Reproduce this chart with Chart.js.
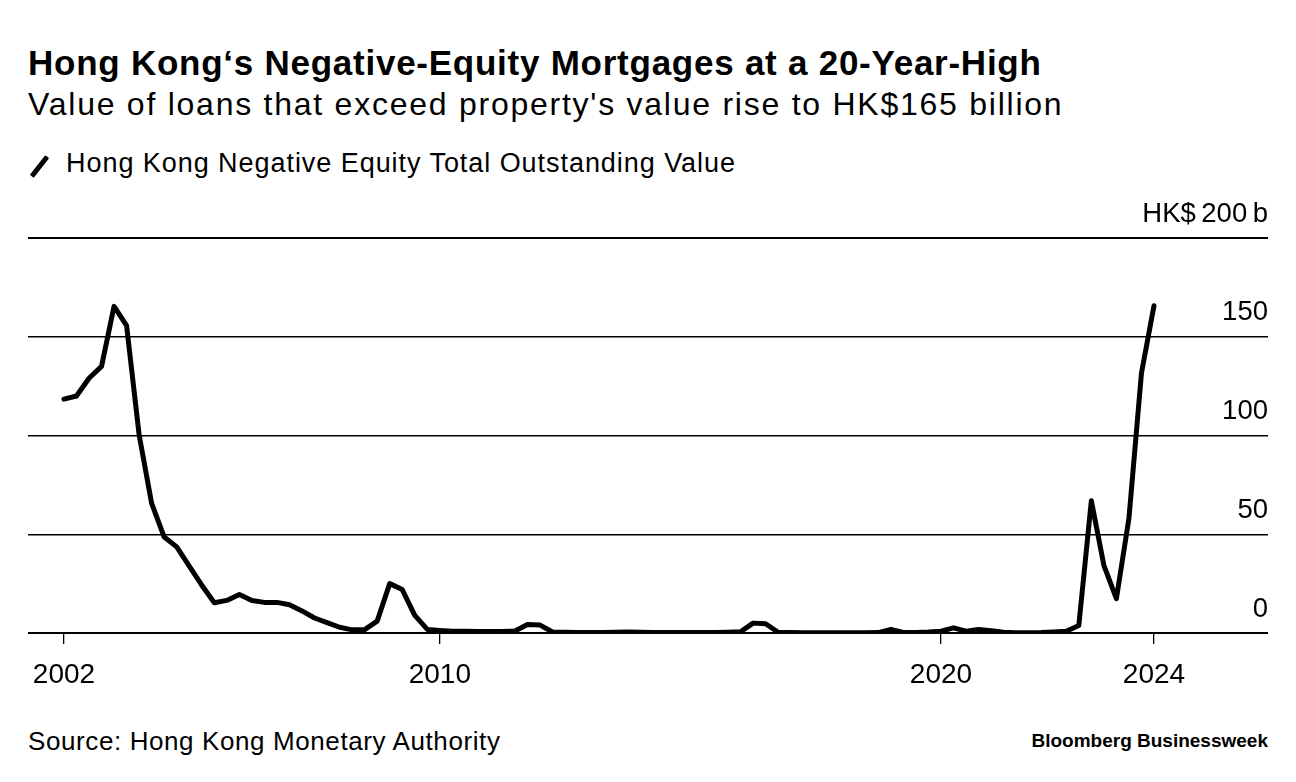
<!DOCTYPE html>
<html>
<head>
<meta charset="utf-8">
<script src="https://cdn.jsdelivr.net/npm/chart.js@4.4.1/dist/chart.umd.min.js"></script>
<style>
  body { margin: 0; width: 1296px; height: 782px; background: #fff; color: #000;
         font-family: "Liberation Sans", Arial, sans-serif; position: relative; overflow: hidden; }
  .txt { position: absolute; line-height: 1; white-space: nowrap; }
  #title { left: 28px; top: 44.5px; font-size: 35px; font-weight: bold; letter-spacing: 0.75px; }
  #subtitle { left: 28px; top: 88px; font-size: 32px; letter-spacing: 1.75px; }
  #legend { left: 66px; top: 149.5px; font-size: 27px; letter-spacing: 0.95px; }
  #legendIcon { position: absolute; left: 37px; top: 154px; width: 5px; height: 25px; background: #000;
                transform: rotate(38deg); border-radius: 1px; }
  #source { left: 28px; top: 728px; font-size: 26px; letter-spacing: 0.6px; }
  #brand { right: 28px; top: 731px; font-size: 19px; font-weight: bold; }
  #wrap { position: absolute; left: 0; top: 180px; width: 1296px; height: 528px; }
</style>
</head>
<body>
<div class="txt" id="title">Hong Kong‘s Negative-Equity Mortgages at a 20-Year-High</div>
<div class="txt" id="subtitle">Value of loans that exceed property's value rise to HK$165 billion</div>
<div id="legendIcon"></div>
<div class="txt" id="legend">Hong Kong Negative Equity Total Outstanding Value</div>
<div id="wrap"><canvas id="negEquityChart"></canvas></div>
<div class="txt" id="source">Source: Hong Kong Monetary Authority</div>
<div class="txt" id="brand">Bloomberg Businessweek</div>

<script>
// Quarterly periods, first point is 2002 Q3
const quarters = [];
for (let i = 0; i < 88; i++) {
  const q = (2 + i) % 4 + 1;
  const y = 2002 + Math.floor((2 + i) / 4);
  quarters.push(y + " Q" + q);
}

// HK$ billion
const outstandingValue = [
  118.4, 120, 129, 135, 165.4, 155.6, 100.3, 65.6, 48.6, 43.6,
  33.9, 24.2, 15.3, 16.5, 19.5, 16.5, 15.5, 15.5, 14.3, 11.2,
  7.6, 5.3, 2.9, 1.6, 1.7, 6, 25, 22, 8.9, 1.8,
  1.3, 0.9, 0.9, 0.8, 0.8, 0.8, 1.0, 4.3, 4.0, 0.5,
  0.4, 0.3, 0.3, 0.3, 0.4, 0.5, 0.4, 0.3, 0.3, 0.3,
  0.3, 0.3, 0.3, 0.4, 0.6, 5.0, 4.7, 0.4, 0.2, 0.1,
  0.1, 0.1, 0.1, 0.1, 0.1, 0.2, 1.8, 0.3, 0.3, 0.5,
  0.9, 2.6, 0.9, 1.8, 1.2, 0.4, 0.1, 0.1, 0.2, 0.5,
  0.9, 3.8, 67, 34.3, 17.4, 58, 131.6, 165.7
];

// x-axis tick positions (point index) and their labels
const xTickIndex = [0, 30, 70, 87];
const xTickLabels = ["2002", "2010", "2020", "2024"];

const points = outstandingValue.map((v, i) => ({ x: i, y: v }));

const ctx = document.getElementById("negEquityChart").getContext("2d");
new Chart(ctx, {
  type: "line",
  data: {
    datasets: [{
      label: "Hong Kong Negative Equity Total Outstanding Value",
      data: points,
      borderColor: "#000",
      borderWidth: 5,
      pointRadius: 0,
      tension: 0,
      borderCapStyle: "round",
      borderJoinStyle: "round"
    }]
  },
  options: {
    responsive: true,
    maintainAspectRatio: false,
    animation: false,
    layout: { padding: { left: 28, right: 28, top: 58, bottom: 2.4 } },
    plugins: {
      legend: { display: false },
      tooltip: {
        callbacks: { title: items => quarters[items[0].parsed.x] }
      }
    },
    scales: {
      x: {
        type: "linear",
        min: -2.87,
        max: 96.1,
        afterBuildTicks: axis => {
          axis.ticks = xTickIndex.map(v => ({ value: v }));
        },
        ticks: {
          autoSkip: false,
          maxRotation: 0,
          color: "#000",
          padding: 14,
          font: { family: "Liberation Sans", size: 28 },
          callback: value => xTickLabels[xTickIndex.indexOf(value)]
        },
        grid: { drawOnChartArea: false, drawTicks: true, tickLength: 11, color: "#000", lineWidth: 1.3 },
        border: { display: false }
      },
      y: {
        position: "right",
        min: 0,
        max: 200,
        ticks: {
          stepSize: 50,
          mirror: true,
          padding: 0,
          labelOffset: -24,
          color: "#000",
          font: { family: "Liberation Sans", size: 27.5 },
          callback: value => value === 200 ? "HK$\u2009200\u2009b" : value
        },
        grid: {
          drawTicks: false,
          color: "#000",
          lineWidth: c => (c.tick && (c.tick.value === 0 || c.tick.value === 200)) ? 2 : 1.4
        },
        border: { display: false }
      }
    }
  }
});
</script>
</body>
</html>
